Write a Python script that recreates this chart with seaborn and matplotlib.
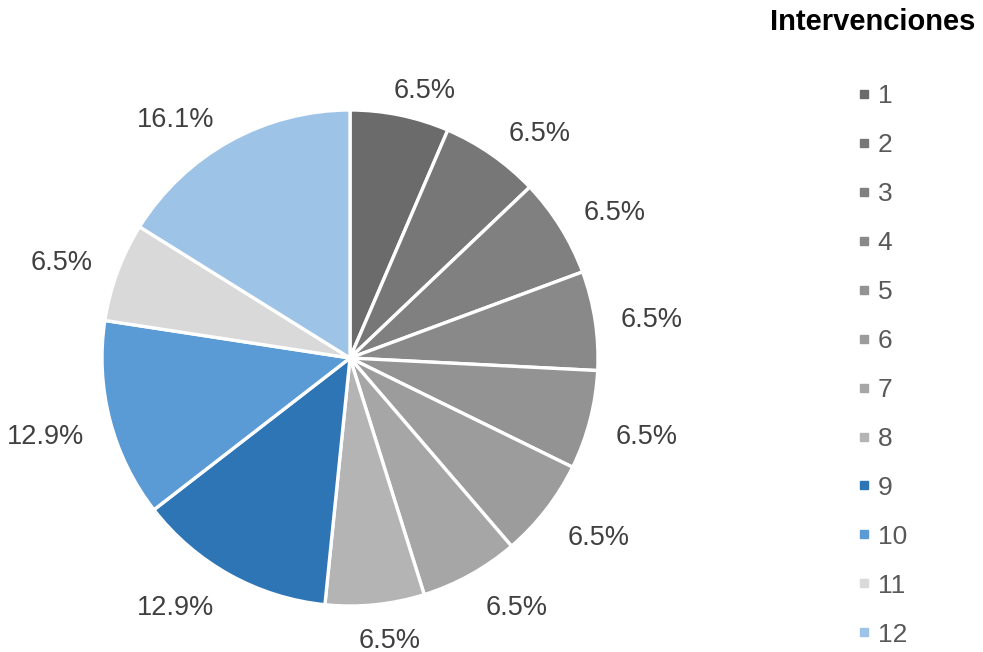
import matplotlib
matplotlib.use("Agg")
import numpy as np
import matplotlib.pyplot as plt
from matplotlib.lines import Line2D
import seaborn as sns

# Intervention counts per category
categories = ["1", "2", "3", "4", "5", "6", "7", "8", "9", "10", "11", "12"]
counts = [2, 2, 2, 2, 2, 2, 2, 2, 4, 4, 2, 5]
colors = ["#6b6b6b", "#777777", "#808080", "#898989", "#939393", "#9c9c9c",
          "#a6a6a6", "#b4b4b4", "#2e75b6", "#5b9bd5", "#d9d9d9", "#9dc3e6"]

sns.set_theme(style="white")
plt.rcParams["font.family"] = ["Liberation Sans", "DejaVu Sans"]

W, H = 983, 652
fig = plt.figure(figsize=(W / 100, H / 100), dpi=100)
cx, cy, r = 350, 358, 248
ax = fig.add_axes([(cx - r) / W, (H - cy - r) / H, 2 * r / W, 2 * r / H])

wedges, _ = ax.pie(
    counts, colors=sns.color_palette(colors), startangle=90, counterclock=False,
    radius=1, wedgeprops=dict(edgecolor="white", linewidth=2.4),
)
ax.set_xlim(-1, 1)
ax.set_ylim(-1, 1)
ax.set_aspect("equal")
ax.axis("off")

# Percentage labels placed just outside each wedge, pushed outward by their own size
total = sum(counts)
labels = [ax.text(0, 0, f"{100 * c / total:.1f}%", ha="center", va="center",
                  fontsize=19.5, color="#404040") for c in counts]
fig.canvas.draw()
renderer = fig.canvas.get_renderer()
px = 1.0 / r  # one pixel in data units
for w, t in zip(wedges, labels):
    mid = np.deg2rad((w.theta1 + w.theta2) / 2)
    ux, uy = np.cos(mid), np.sin(mid)
    bb = t.get_window_extent(renderer)
    hw, hh = bb.width / 2 * px, bb.height / 2 * px
    d = 1.085
    x = d * ux + hw * np.clip(2.5 * ux, -1, 1) + 5 * px * np.sign(ux)
    y = d * uy + hh * np.clip(2.5 * uy, -1, 1) - (6 + 4 * np.clip(2.5 * uy, -1, 1)) * px
    t.set_position((x, y))

handles = [Line2D([], [], marker="s", linestyle="none", markersize=5.8,
                  markerfacecolor=c, markeredgecolor=c) for c in colors]
leg = fig.legend(handles, categories, loc="upper left",
                 bbox_to_anchor=(843 / W, 1 - 71 / H), frameon=False,
                 fontsize=19, labelspacing=0.945, handlelength=0.6,
                 handletextpad=0.22, borderpad=0)
for t in leg.get_texts():
    t.set_color("#595959")

fig.text(873 / W, 1 - 22 / H, "Intervenciones", ha="center", va="center",
         fontsize=21, fontweight="bold", color="black")

fig.savefig("out.png", dpi=100, facecolor="white")
